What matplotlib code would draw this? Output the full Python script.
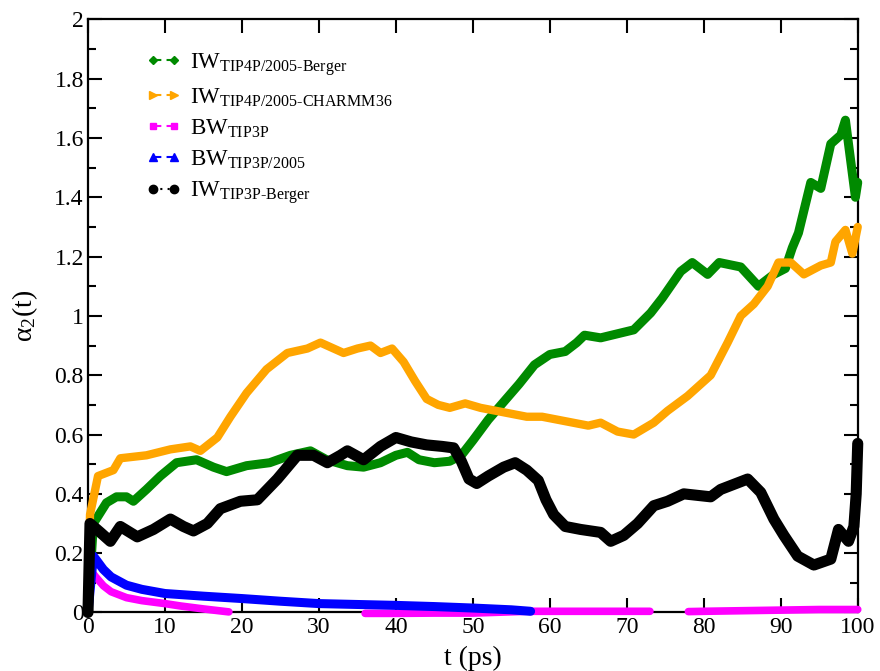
import numpy as np
import matplotlib
matplotlib.use("Agg")
import matplotlib.pyplot as plt
from matplotlib.lines import Line2D

plt.rcParams["font.family"] = ["Liberation Serif", "DejaVu Serif"]
plt.rcParams["mathtext.fontset"] = "custom"
plt.rcParams["mathtext.rm"] = "Liberation Serif"
plt.rcParams["mathtext.it"] = "Liberation Serif:italic"

# IW, TIP4P/2005 water with Berger lipids
t_iw4_berger = [0, 0.7, 2.4, 3.7, 5, 5.9, 7.6, 9.4, 11.5, 14.1, 16.3, 18, 20.6, 23.6,
                26.3, 28.9, 31, 33.7, 35.8, 38, 40, 41.5, 43, 45, 47, 48.5, 50, 52,
                54, 56, 58, 60, 62, 63.5, 64.5, 66.6, 70.9, 73.1, 74.6, 77, 78.5,
                80.5, 82, 84.8, 87.1, 89.1, 90.6, 91.5, 92.3, 93.9, 95.2, 96.5,
                97.8, 98.4, 99.7, 100]
a_iw4_berger = [0, 0.30, 0.37, 0.39, 0.39, 0.375, 0.415, 0.46, 0.505, 0.515, 0.49,
                0.475, 0.495, 0.505, 0.53, 0.545, 0.515, 0.495, 0.49, 0.505, 0.53,
                0.54, 0.515, 0.505, 0.51, 0.53, 0.58, 0.65, 0.71, 0.77, 0.835, 0.87,
                0.88, 0.91, 0.935, 0.926, 0.953, 1.01, 1.06, 1.15, 1.18, 1.14, 1.18,
                1.165, 1.10, 1.14, 1.16, 1.23, 1.28, 1.45, 1.43, 1.58, 1.61, 1.66,
                1.40, 1.45]

# IW, TIP4P/2005 water with CHARMM36 lipids
t_iw4_charmm = [0, 0.26, 1.3, 3.3, 4.2, 7.6, 10.7, 13.3, 14.6, 16.8, 18.5, 20.6,
                23.2, 25.9, 28.5, 30.2, 33.2, 35, 36.7, 38, 39.5, 41, 42.5, 44,
                45.5, 47, 49, 51, 53, 55, 57, 59, 61, 63, 65, 66.6, 68.8, 70.9,
                73.5, 75.3, 77.9, 80.9, 83.1, 84.8, 86.5, 88.3, 89.7, 91.3, 93,
                95.2, 96.5, 97.1, 98.4, 99.3, 100]
a_iw4_charmm = [0, 0.33, 0.46, 0.48, 0.52, 0.53, 0.55, 0.56, 0.545, 0.59, 0.66,
                0.74, 0.82, 0.875, 0.89, 0.91, 0.875, 0.89, 0.90, 0.875, 0.89,
                0.845, 0.78, 0.72, 0.70, 0.69, 0.705, 0.69, 0.68, 0.67, 0.66, 0.66,
                0.65, 0.64, 0.63, 0.64, 0.61, 0.60, 0.64, 0.68, 0.73, 0.80, 0.91,
                1.0, 1.04, 1.10, 1.18, 1.18, 1.14, 1.17, 1.18, 1.25, 1.29, 1.21, 1.30]

# BW, TIP3P (gaps where no data were written)
t_bw3 = [0.7, 1, 2, 3, 5, 7, 10, 12, 15, 18.3, 18.4, 36, 40, 45, 50, 57, 60, 65,
         70, 73, 73.1, 78, 80, 85, 90, 95, 100]
a_bw3 = [0.13, 0.12, 0.09, 0.07, 0.05, 0.04, 0.03, 0.022, 0.012, 0.002, np.nan,
         -0.003, -0.003, -0.002, -0.002, 0.004, 0.004, 0.004, 0.004, 0.004,
         np.nan, 0.003, 0.004, 0.006, 0.008, 0.01, 0.01]

# BW, TIP3P/2005
t_bw35 = [0, 0.7, 1, 2, 3, 5, 7, 10, 15, 20, 25, 30, 35, 40, 45, 50, 55, 57.5]
a_bw35 = [0, 0.19, 0.18, 0.145, 0.12, 0.092, 0.078, 0.064, 0.055, 0.047, 0.038,
          0.030, 0.027, 0.024, 0.02, 0.015, 0.009, 0.004]

# IW, TIP3P water with Berger lipids
t_iw3_berger = [0, 0.26, 1.6, 2.9, 4.2, 6.4, 8.5, 10.7, 12.4, 13.7, 15.5, 17.2,
                19.8, 22, 24.6, 27.2, 29.3, 31.1, 32.8, 33.7, 35.8, 38, 40, 42,
                44, 46, 47.5, 48.5, 49.5, 50.5, 52, 54, 55.5, 57, 58.5, 59.5, 60.5,
                62, 64, 66.6, 67.9, 69.6, 71.4, 73.5, 75.3, 77.4, 80.9, 82.2, 85.7,
                87.4, 89.1, 90.4, 92.2, 94.3, 96.5, 97.5, 98.8, 99.5, 99.8, 100]
a_iw3_berger = [0, 0.30, 0.27, 0.24, 0.29, 0.255, 0.28, 0.315, 0.29, 0.275, 0.30,
                0.35, 0.375, 0.38, 0.45, 0.53, 0.53, 0.505, 0.53, 0.545, 0.515,
                0.56, 0.59, 0.575, 0.565, 0.56, 0.555, 0.51, 0.45, 0.435, 0.46,
                0.49, 0.505, 0.48, 0.445, 0.38, 0.33, 0.29, 0.28, 0.27, 0.24, 0.26,
                0.30, 0.36, 0.375, 0.40, 0.39, 0.415, 0.45, 0.405, 0.315, 0.26,
                0.19, 0.16, 0.18, 0.28, 0.24, 0.29, 0.40, 0.57]

x_ticks = list(range(0, 101, 10))
y_ticks = [0, 0.2, 0.4, 0.6, 0.8, 1, 1.2, 1.4, 1.6, 1.8, 2]

fig = plt.figure(figsize=(8.8, 6.71), dpi=100)
ax = fig.add_axes([0.1, 0.0872, 0.8747, 0.884])

series = [
    (t_iw4_berger, a_iw4_berger, "#008a00", 6.5, "D", 4.5, (4, 2.5),
     r"IW$_{\text{TIP4P/2005-Berger}}$"),
    (t_iw4_charmm, a_iw4_charmm, "#ffa500", 6.0, ">", 5.5, (4, 2.5),
     r"IW$_{\text{TIP4P/2005-CHARMM36}}$"),
    (t_bw3, a_bw3, "#ff00ff", 5.5, "s", 5, (4, 2.5),
     r"BW$_{\text{TIP3P}}$"),
    (t_bw35, a_bw35, "#0000ff", 6.5, "^", 5.5, (4, 2.5),
     r"BW$_{\text{TIP3P/2005}}$"),
    (t_iw3_berger, a_iw3_berger, "#000000", 8.0, "o", 6, (1, 2.5),
     r"IW$_{\text{TIP3P-Berger}}$"),
]

handles = []
for t, a, color, lw, marker, ms, dashes, label in series:
    ax.plot(t, a, color=color, lw=lw, solid_joinstyle="round",
            solid_capstyle="round", clip_on=False, zorder=3)
    handles.append(Line2D([], [], color=color, lw=1.5, dashes=dashes,
                          marker=marker, markersize=ms, label=label))

ax.set_xlim(0, 100)
ax.set_ylim(0, 2)
ax.set_xticks(x_ticks)
ax.set_yticks(y_ticks)
ax.set_yticklabels(["%g" % v for v in y_ticks])
ax.set_yticks(np.arange(0.1, 2.0, 0.2), minor=True)
ax.tick_params(which="both", direction="in", top=True, right=True,
               labelsize=17, width=1.5, pad=3)
ax.tick_params(which="major", length=10)
ax.tick_params(which="minor", length=6)
for sp in ax.spines.values():
    sp.set_linewidth(1.6)

ax.set_xlabel("t (ps)", fontsize=20, labelpad=6)
ax.set_ylabel(r"$\mathrm{\alpha_2}$(t)", fontsize=20, labelpad=10)

ax.legend(handles=handles, loc="upper left", bbox_to_anchor=(0.076, 0.947),
          frameon=False, fontsize=16.5, numpoints=2, handlelength=1.5,
          handletextpad=0.4, labelspacing=0.38, borderpad=0, borderaxespad=0)

fig.savefig("out.png", dpi=100)
